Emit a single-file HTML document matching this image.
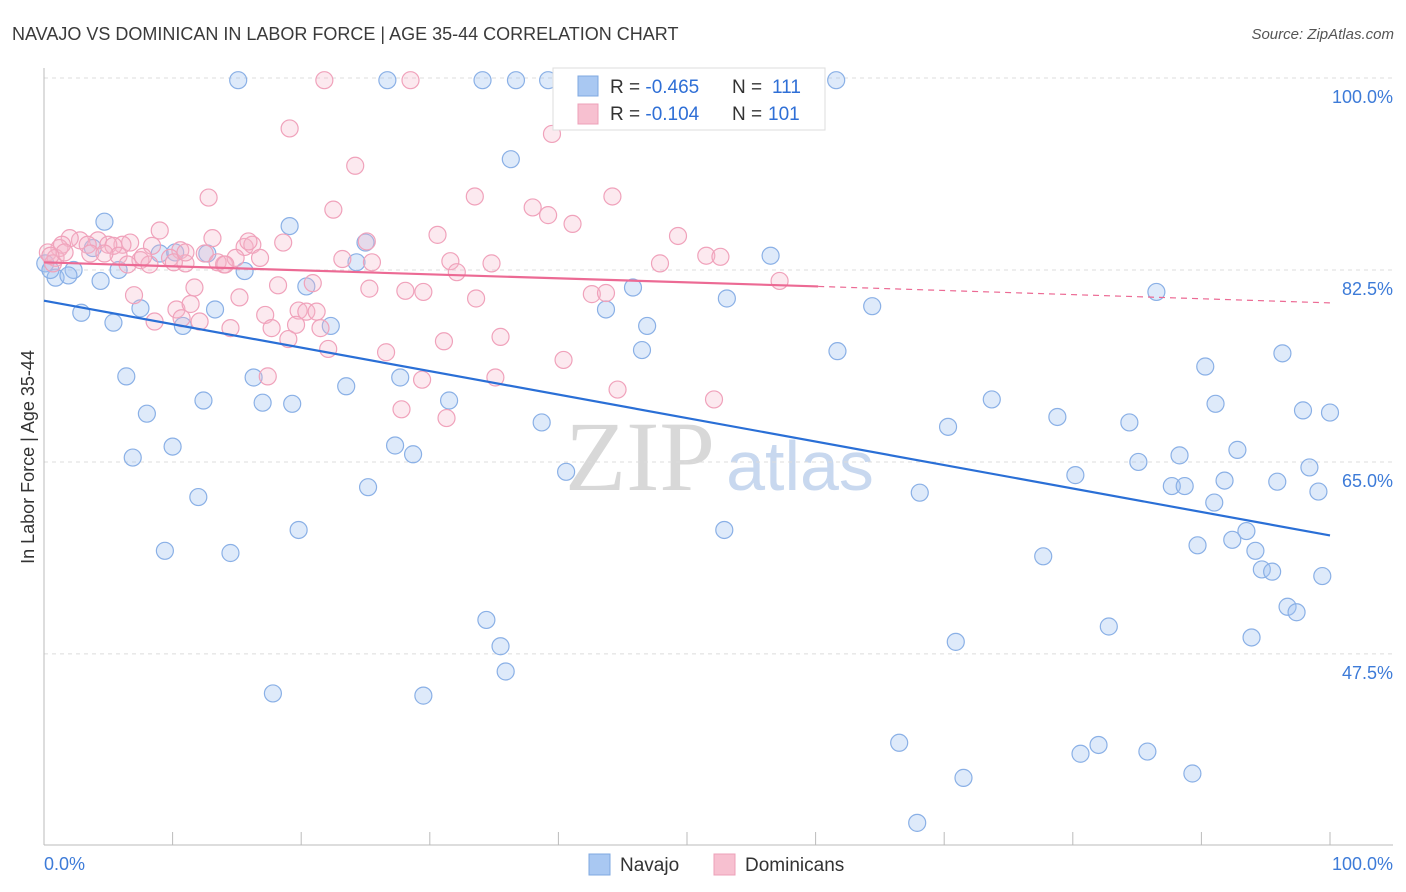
<!DOCTYPE html>
<html><head><meta charset="utf-8">
<style>
body{margin:0;background:#fff;font-family:"Liberation Sans",sans-serif;}
#wrap{position:relative;width:1406px;height:892px;overflow:hidden;}
</style></head>
<body>
<div id="wrap">
<svg id="svg" width="1406" height="892" xmlns="http://www.w3.org/2000/svg">
<text x="12" y="40" font-size="18" fill="#3a3a3a">NAVAJO VS DOMINICAN IN LABOR FORCE | AGE 35-44 CORRELATION CHART</text>
<text x="1394" y="39" font-size="15" fill="#555" font-style="italic" text-anchor="end">Source: ZipAtlas.com</text>
<text x="640" y="490" font-size="100" fill="#d8d8d8" font-family="Liberation Serif,serif" text-anchor="middle">ZIP</text>
<text x="800" y="490" font-size="70" fill="#c8d8ef" text-anchor="middle">atlas</text>
<g id="grid"></g><g id="pts"></g><g id="trend"></g>
<text transform="translate(34,457) rotate(-90)" font-size="18" fill="#333" text-anchor="middle">In Labor Force | Age 35-44</text>
<text x="44" y="870" font-size="18" fill="#3d7bd8">0.0%</text>
<text x="1393" y="870" font-size="18" fill="#3d7bd8" text-anchor="end">100.0%</text>
<g>
<rect x="553" y="68" width="272" height="62" fill="#fff" stroke="#ddd"/>
<rect x="578" y="76" width="20" height="20" fill="#a9c8f2" stroke="#7fa8e0"/>
<rect x="578" y="104" width="20" height="20" fill="#f7c0d0" stroke="#eca0b8"/>
<text x="610" y="93" font-size="19" fill="#333">R = <tspan fill="#2f6fd6">-0.465</tspan><tspan x="732">N = </tspan><tspan fill="#2f6fd6" x="772">111</tspan></text>
<text x="610" y="120" font-size="19" fill="#333">R = <tspan fill="#2f6fd6">-0.104</tspan><tspan x="732">N = </tspan><tspan fill="#2f6fd6" x="768">101</tspan></text>
</g>
<g>
<rect x="589" y="854" width="21" height="21" fill="#a9c8f2" stroke="#7fa8e0"/>
<text x="620" y="871" font-size="19" fill="#333">Navajo</text>
<rect x="714" y="854" width="21" height="21" fill="#f7c0d0" stroke="#eca0b8"/>
<text x="745" y="871" font-size="19" fill="#333">Dominicans</text>
</g>
</svg>
</div>
<script>
const yTicks=[100,82.5,65,47.5];
const yTickLabels=["100.0%","82.5%","65.0%","47.5%"];
const xTicks=[0,10,20,30,40,50,60,70,80,90,100];
const navajoX=[15.1,26.7,34.1,36.7,39.2,40.4,58.0,61.6,36.3,4.7,19.1,25.0,56.5,3.8,9.0,10.2,12.7,15.6,5.8,2.3,0.9,1.9,4.4,24.3,20.4,45.8,53.1,43.7,64.4,86.5,2.9,7.5,13.3,5.4,10.8,22.3,46.9,46.5,61.7,96.3,90.3,6.4,16.3,23.5,27.7,12.4,17.0,19.3,31.5,73.7,91.1,97.9,100.0,8.0,38.7,70.3,78.8,84.4,10.0,27.3,28.7,6.9,92.8,88.3,85.1,98.4,40.6,80.2,25.2,12.0,68.1,87.7,88.7,91.8,95.9,99.1,91.0,19.8,52.9,93.5,92.4,89.7,9.4,14.5,77.7,94.2,94.7,95.5,99.4,34.4,96.7,97.4,82.8,93.9,70.9,35.5,35.9,17.8,29.5,66.5,82.0,80.6,85.8,71.5,89.3,67.9,0.1,0.5];
const navajoY=[99.8,99.8,99.8,99.8,99.8,99.8,99.8,99.8,92.6,86.9,86.5,85.0,83.8,84.5,84.0,84.1,84.0,82.4,82.5,82.5,81.8,82.0,81.5,83.2,81.0,80.9,79.9,78.9,79.2,80.5,78.6,79.0,78.9,77.7,77.4,77.4,77.4,75.2,75.1,74.9,73.7,72.8,72.7,71.9,72.7,70.6,70.4,70.3,70.6,70.7,70.3,69.7,69.5,69.4,68.6,68.2,69.1,68.6,66.4,66.5,65.7,65.4,66.1,65.6,65.0,64.5,64.1,63.8,62.7,61.8,62.2,62.8,62.8,63.3,63.2,62.3,61.3,58.8,58.8,58.7,57.9,57.4,56.9,56.7,56.4,56.9,55.2,55.0,54.6,50.6,51.8,51.3,50.0,49.0,48.6,48.2,45.9,43.9,43.7,39.4,39.2,38.4,38.6,36.2,36.6,32.1,83.1,82.5];
const domX=[21.8,28.5,19.1,39.5,24.2,12.8,33.5,44.2,22.5,38.0,39.2,41.1,9.0,13.1,30.6,49.3,51.5,52.6,25.1,18.6,15.6,16.2,10.6,6.7,8.4,6.1,4.2,2.8,2.0,1.2,0.3,0.9,1.4,3.4,5.0,5.4,5.8,7.5,8.2,9.8,11.0,12.5,14.0,13.5,14.9,16.8,23.2,25.5,31.6,34.8,32.1,47.9,57.2,25.3,18.2,28.1,29.5,42.6,43.7,33.6,7.0,11.7,15.2,20.9,10.3,11.4,8.6,10.7,12.1,14.5,17.2,19.8,20.4,21.2,17.7,19.6,21.5,19.0,22.1,26.6,31.1,35.5,40.4,17.4,29.4,35.1,44.6,27.8,31.3,52.1,0.7,1.6,3.6,4.7,7.7,14.1,15.9,10.1,6.5,11.0,0.5];
const domY=[99.8,99.8,95.4,94.9,92.0,89.1,89.2,89.2,88.0,88.2,87.5,86.7,86.1,85.4,85.7,85.6,83.8,83.7,85.1,85.0,84.6,84.8,84.3,85.0,84.7,84.8,85.2,85.2,85.4,84.5,84.1,83.6,84.8,84.8,84.8,84.7,83.8,83.4,83.0,83.6,83.1,84.0,83.0,83.2,83.6,83.6,83.5,83.2,83.3,83.1,82.3,83.1,81.5,80.8,81.1,80.6,80.5,80.3,80.4,79.9,80.2,80.9,80.0,81.3,78.9,79.4,77.8,78.1,77.8,77.2,78.4,78.8,78.7,78.7,77.2,77.5,77.2,76.2,75.3,75.0,76.0,76.4,74.3,72.8,72.5,72.7,71.6,69.8,69.0,70.7,83.1,84.1,84.0,84.0,83.7,83.0,85.1,83.2,83.0,84.1,83.8];
const navajoTrendX=[0,100];
const navajoTrendY=[79.7,58.3];
const domTrendX=[0,60.2,100];
const domTrendY=[83.2,81.0,79.5];

const NS="http://www.w3.org/2000/svg";
const X0=44,X1=1330,YT=78,PXU=10.97;
function sx(v){return X0+(X1-X0)*v/100;}
function sy(v){return YT+(100-v)*PXU;}
function mk(t,a,p){const e=document.createElementNS(NS,t);for(const k in a)e.setAttribute(k,a[k]);p.appendChild(e);return e;}
const grid=document.getElementById('grid');
yTicks.forEach((t,i)=>{
 const l=mk('line',{x1:X0,x2:1393,y1:sy(t),y2:sy(t),stroke:'#dcdcdc','stroke-dasharray':'4,4'},grid);
 
 
 const tx=mk('text',{x:1393,y:sy(t)+25,'font-size':18,fill:'#3d7bd8','text-anchor':'end'},grid);
 tx.textContent=yTickLabels[i];
 
 
});
const ax=mk('line',{x1:X0,x2:1393,y1:845,y2:845,stroke:'#bbb'},grid);


const ay=mk('line',{x1:X0,x2:X0,y1:68,y2:845,stroke:'#bbb'},grid);


xTicks.forEach(t=>{
 const l=mk('line',{x1:sx(t),x2:sx(t),y1:832,y2:845,stroke:'#bbb'},grid);
 
 
});
const pts=document.getElementById('pts');
navajoX.forEach((x,i)=>{
 const c=mk('circle',{cx:sx(x),cy:sy(navajoY[i]),r:8.5,fill:'rgba(160,196,240,0.35)',stroke:'#8ab0e6','stroke-width':1.2},pts);
 
 
});
domX.forEach((x,i)=>{
 const c=mk('circle',{cx:sx(x),cy:sy(domY[i]),r:8.5,fill:'rgba(246,182,202,0.3)',stroke:'#f0a2bb','stroke-width':1.2},pts);
 
 
});
const tr=document.getElementById('trend');
const bl=mk('line',{x1:sx(navajoTrendX[0]),y1:sy(navajoTrendY[0]),x2:sx(navajoTrendX[1]),y2:sy(navajoTrendY[1]),stroke:'#2a6fd6','stroke-width':2.2},tr);


const pl=mk('line',{x1:sx(domTrendX[0]),y1:sy(domTrendY[0]),x2:sx(domTrendX[1]),y2:sy(domTrendY[1]),stroke:'#ec6a94','stroke-width':2.2},tr);


const pd=mk('line',{x1:sx(domTrendX[1]),y1:sy(domTrendY[1]),x2:sx(domTrendX[2]),y2:sy(domTrendY[2]),stroke:'#ec6a94','stroke-width':1.2,'stroke-dasharray':'6,5'},tr);


</script>
</body></html>
